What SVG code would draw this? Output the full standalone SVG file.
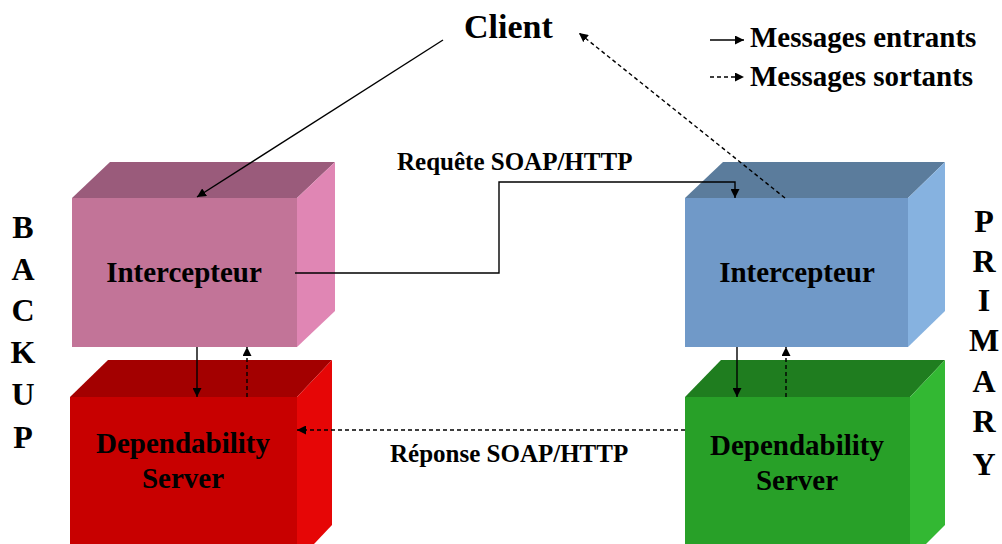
<svg xmlns="http://www.w3.org/2000/svg" width="1002" height="544" viewBox="0 0 1002 544">
  <defs>
    <marker id="head" viewBox="0 0 10 10" refX="10" refY="5" markerWidth="9" markerHeight="9" markerUnits="userSpaceOnUse" orient="auto">
      <path d="M0,0 L10,5 L0,10 z" fill="#000"/>
    </marker>
    <style>
      text { font-family: "Liberation Serif", "Times New Roman", serif; font-weight: bold; fill: #000; }
      .box-label { font-size: 29px; text-anchor: middle; }
      .msg { font-size: 25px; }
      .legend { font-size: 29px; }
      .side { font-size: 32px; text-anchor: middle; }
      .solid { fill: none; stroke: #000; stroke-width: 1.4; marker-end: url(#head); }
      .dashed { fill: none; stroke: #000; stroke-width: 1.4; stroke-dasharray: 4 3; marker-end: url(#head); }
    </style>
  </defs>
  <rect width="1002" height="544" fill="#fff"/>

  <!-- Backup interceptor -->
  <g id="backup-interceptor">
    <polygon points="72,198 110,162 335,162 297,198" fill="#9A5B7B"/>
    <polygon points="297,198 335,162 335,311 297,347" fill="#E086B4"/>
    <rect x="72" y="198" width="225" height="149" fill="#C27498"/>
    <text class="box-label" x="184" y="282">Intercepteur</text>
  </g>

  <!-- Backup dependability server -->
  <g id="backup-server">
    <polygon points="70,397 108,360 332,360 297,397" fill="#A30000"/>
    <polygon points="297,397 332,360 332,525 297,562" fill="#E60606"/>
    <rect x="70" y="397" width="227" height="160" fill="#C80000"/>
    <text class="box-label" x="183" y="453">Dependability</text>
    <text class="box-label" x="183" y="488">Server</text>
  </g>

  <!-- Primary interceptor -->
  <g id="primary-interceptor">
    <polygon points="685,198 723,162 945,162 908,198" fill="#5B7C9C"/>
    <polygon points="908,198 945,162 945,311 908,347" fill="#86B2E0"/>
    <rect x="685" y="198" width="223" height="149" fill="#7099C8"/>
    <text class="box-label" x="797" y="282">Intercepteur</text>
  </g>

  <!-- Primary dependability server -->
  <g id="primary-server">
    <polygon points="685,397 721,360 945,360 910,397" fill="#1F7D1F"/>
    <polygon points="910,397 945,360 945,525 910,560" fill="#33B833"/>
    <rect x="685" y="397" width="225" height="160" fill="#28A028"/>
    <text class="box-label" x="797" y="455">Dependability</text>
    <text class="box-label" x="797" y="490">Server</text>
  </g>

  <!-- Client -->
  <g id="client">
    <text x="464" y="38" style="font-size:34px">Client</text>
  </g>

  <!-- Legend -->
  <g id="legend">
    <line class="solid" x1="710" y1="40" x2="744" y2="40"/>
    <text class="legend" x="750" y="47">Messages entrants</text>
    <line class="dashed" x1="710" y1="77" x2="744" y2="77"/>
    <text class="legend" x="750" y="86">Messages sortants</text>
  </g>

  <!-- Side labels -->
  <g id="label-backup">
    <text class="side" x="23" y="238">B</text>
    <text class="side" x="23" y="280">A</text>
    <text class="side" x="23" y="321">C</text>
    <text class="side" x="23" y="363">K</text>
    <text class="side" x="23" y="405">U</text>
    <text class="side" x="23" y="448">P</text>
  </g>
  <g id="label-primary">
    <text class="side" x="984" y="232">P</text>
    <text class="side" x="984" y="272">R</text>
    <text class="side" x="984" y="311">I</text>
    <text class="side" x="984" y="351">M</text>
    <text class="side" x="984" y="392">A</text>
    <text class="side" x="984" y="432">R</text>
    <text class="side" x="984" y="475">Y</text>
  </g>

  <!-- Connectors -->
  <g id="connectors">
    <line class="solid" x1="443" y1="40" x2="197" y2="197"/>
    <line class="dashed" x1="785" y1="198" x2="579" y2="33"/>
    <polyline class="solid" points="295,273 499,273 499,182 735,182 735,198"/>
    <line class="dashed" x1="685" y1="430" x2="297" y2="430"/>
    <line class="solid" x1="197" y1="347" x2="197" y2="397"/>
    <line class="dashed" x1="247" y1="397" x2="247" y2="347"/>
    <line class="solid" x1="737" y1="347" x2="737" y2="397"/>
    <line class="dashed" x1="786" y1="397" x2="786" y2="347"/>
    <text class="msg" x="397" y="170">Requête SOAP/HTTP</text>
    <text class="msg" x="390" y="462">Réponse SOAP/HTTP</text>
  </g>
</svg>
